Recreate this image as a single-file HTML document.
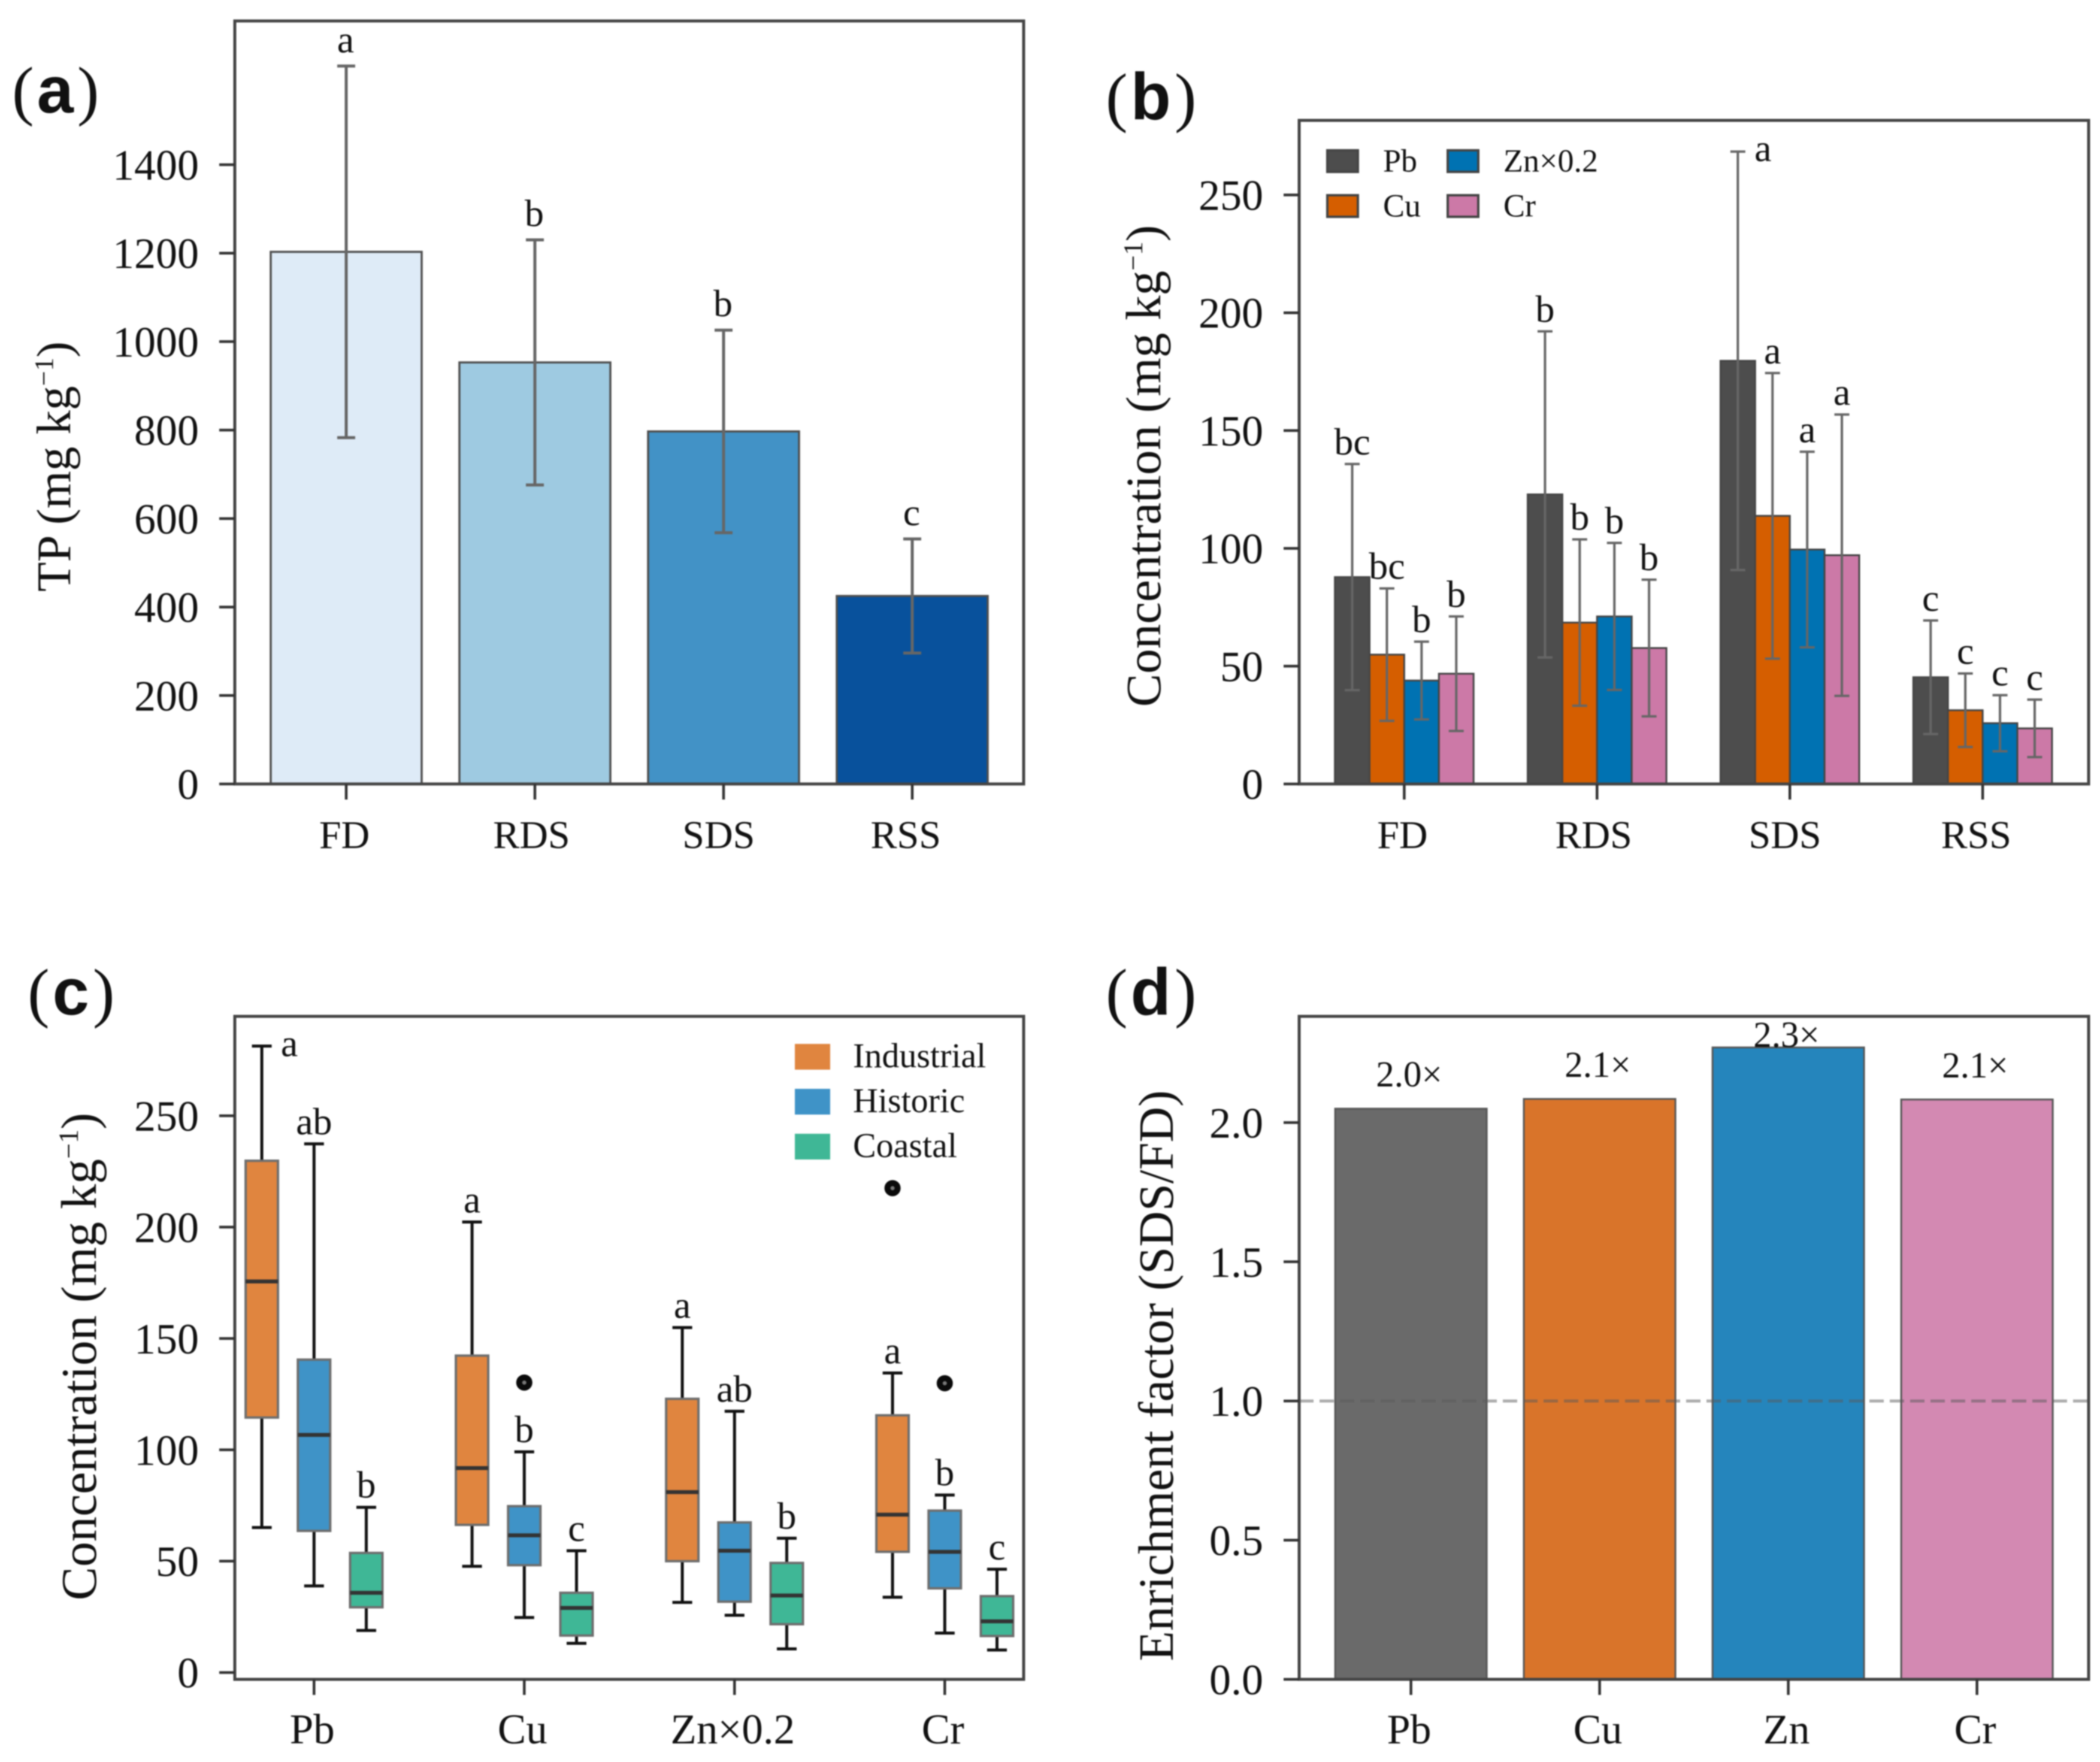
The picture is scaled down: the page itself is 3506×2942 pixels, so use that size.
<!DOCTYPE html>
<html lang="en">
<head>
<meta charset="utf-8">
<title>Metal concentrations by site</title>
<style>
  html, body { margin: 0; padding: 0; background: #fff; }
  svg { display: block; filter: blur(1px); }
  text { font-family: "Liberation Serif", serif; fill: #111; }
</style>
</head>
<body>
<svg id="figure" xmlns="http://www.w3.org/2000/svg" width="3506" height="2942" viewBox="0 0 3506 2942">
  <rect x="0" y="0" width="3506" height="2942" fill="#ffffff"/>
  <g id="panel-a"></g>
  <g id="panel-b"></g>
  <g id="panel-c"></g>
  <g id="panel-d"></g>
</svg>
<script>
// ---------- Panel (a) data ----------
const tpCategories = ['FD', 'RDS', 'SDS', 'RSS'];
const tpMeans = [1203, 953, 797, 425];
const tpSd = [420, 277, 229, 129];
const tpLetters = ['a', 'b', 'b', 'c'];
const tpTicks = [0, 200, 400, 600, 800, 1000, 1200, 1400];

// ---------- Panel (b) data ----------
const metalCategories = ['FD', 'RDS', 'SDS', 'RSS'];
const metalSeries = ['Pb', 'Cu', 'Zn×0.2', 'Cr'];
const pbMeans = [87.8, 122.9, 179.6, 45.3];
const cuMeans = [54.9, 68.5, 113.8, 31.3];
const znMeans = [43.9, 71.1, 99.5, 25.8];
const crMeans = [46.8, 57.7, 97.1, 23.6];
const pbSd = [48, 69.2, 88.8, 24.1];
const cuSd = [28.1, 35.3, 60.6, 15.6];
const znSd = [16.5, 31.2, 41.5, 11.9];
const crSd = [24.3, 29, 59.7, 12.2];
const pbLetters = ['bc', 'b', 'a', 'c'];
const cuLetters = ['bc', 'b', 'a', 'c'];
const znLetters = ['b', 'b', 'a', 'c'];
const crLetters = ['b', 'b', 'a', 'c'];
const metalTicks = [0, 50, 100, 150, 200, 250];

// ---------- Panel (c) data: [low whisker, q1, median, q3, high whisker] ----------
const boxCategories = ['Pb', 'Cu', 'Zn×0.2', 'Cr'];
const boxGroups = ['Industrial', 'Historic', 'Coastal'];
const industrialBoxes = [[65.1, 114.5, 175.6, 229.8, 281.3], [47.7, 66.3, 91.8, 142.3, 202.3], [31.5, 50, 81, 122.9, 154.9], [33.8, 54.2, 70.9, 115.5, 134.5]];
const historicBoxes = [[38.9, 63.6, 106.7, 140.5, 237.4], [24.7, 48.2, 61.6, 74.7, 99.1], [25.7, 31.8, 54.7, 67.4, 117.3], [17.7, 37.8, 54.2, 72.7, 79.7]];
const coastalBoxes = [[18.9, 29.3, 35.8, 53.7, 74.2], [13.1, 16.6, 29, 35.8, 54.7], [10.6, 21.7, 34.6, 49.2, 60.3], [10.1, 16.4, 23, 34.3, 46.4]];
const industrialOutliers = [null, null, null, 217.5];
const historicOutliers = [null, 130.2, null, 129.9];
const coastalOutliers = [null, null, null, null];
const industrialLetters = ['a', 'a', 'a', 'a'];
const historicLetters = ['ab', 'b', 'ab', 'b'];
const coastalLetters = ['b', 'c', 'b', 'c'];
const boxTicks = [0, 50, 100, 150, 200, 250];

// ---------- Panel (d) data ----------
const efCategories = ['Pb', 'Cu', 'Zn', 'Cr'];
const efValues = [2.05, 2.085, 2.27, 2.083];
const efLabels = ['2.0×', '2.1×', '2.3×', '2.1×'];
const efTicks = ['0.0', '0.5', '1.0', '1.5', '2.0'];
const efReference = 1.0;

// ---------- Helpers ----------
const NS = 'http://www.w3.org/2000/svg';
const INK = '#454545';
const LETTER_SIZE = 64;

function linear(d0, d1, r0, r1) {
  return function (v) { return r0 + (v - d0) * (r1 - r0) / (d1 - d0); };
}
function band(first, step) {
  return function (i) { return first + i * step; };
}
function make(parent, tag, attrs, name) {
  const el = document.createElementNS(NS, tag);
  for (const k in attrs) el.setAttribute(k, attrs[k]);
  
  
  parent.appendChild(el);
  return el;
}
function line(parent, x1, y1, x2, y2, stroke, width, name) {
  return make(parent, 'line', { x1: x1, y1: y1, x2: x2, y2: y2, stroke: stroke, 'stroke-width': width }, name);
}
function label(parent, x, y, str, size, anchor, name) {
  const el = make(parent, 'text', { x: x, y: y, 'font-size': size, 'text-anchor': anchor }, name);
  el.textContent = str;
  return el;
}
function barRect(parent, cx, width, yTop, yBase, fill, edge, edgeWidth, name) {
  return make(parent, 'rect', { x: cx - width / 2, y: yTop, width: width, height: yBase - yTop, fill: fill, stroke: edge, 'stroke-width': edgeWidth }, name);
}
function errorBar(parent, x, yHi, yLo, capWidth, strokeWidth, name) {
  const g = make(parent, 'g', {}, name);
  line(g, x, yHi, x, yLo, '#666666', strokeWidth, name + '-stem');
  line(g, x - capWidth / 2, yHi, x + capWidth / 2, yHi, '#666666', strokeWidth, name + '-cap-high');
  line(g, x - capWidth / 2, yLo, x + capWidth / 2, yLo, '#666666', strokeWidth, name + '-cap-low');
}
function frame(parent, left, top, right, bottom) {
  make(parent, 'rect', { x: left, y: top, width: right - left, height: bottom - top, fill: 'none', stroke: INK, 'stroke-width': 5 }, 'axes-frame');
}
function yAxis(parent, left, ticks, texts, scale) {
  ticks.forEach(function (t, i) {
    const y = scale(t);
    line(parent, left - 26, y, left, y, '#333333', 4.5, 'y-tick-' + texts[i]);
    label(parent, left - 60, y + 25, texts[i], 72, 'end', 'y-tick-label-' + texts[i]);
  });
}
function xAxis(parent, bottom, baseline, cats, center, size, drift) {
  cats.forEach(function (c, i) {
    const x = center(i);
    line(parent, x, bottom, x, bottom + 26, '#333333', 4.5, 'x-tick-' + c);
    label(parent, x - 3 - i * drift, baseline, c, size, 'middle', 'x-tick-label-' + c);
  });
}
function yTitle(parent, x, y, str, size, withUnit) {
  const el = make(parent, 'text', { 'font-size': size, 'text-anchor': 'middle', transform: 'translate(' + x + ',' + y + ') rotate(-90)' }, 'y-axis-title');
  el.appendChild(document.createTextNode(str));
  if (withUnit) {
    const sup = document.createElementNS(NS, 'tspan');
    sup.setAttribute('font-size', size * 0.55);
    sup.setAttribute('dy', -size * 0.36);
    sup.textContent = '−1';
    el.appendChild(sup);
    const end = document.createElementNS(NS, 'tspan');
    end.setAttribute('dy', size * 0.36);
    end.textContent = ')';
    el.appendChild(end);
  }
}
function panelTag(parent, x, baseline, letter) {
  const el = make(parent, 'text', { x: x, y: baseline, 'font-size': 110 }, 'panel-label-' + letter);
  const a = document.createElementNS(NS, 'tspan');
  a.textContent = '(';
  el.appendChild(a);
  const b = document.createElementNS(NS, 'tspan');
  b.setAttribute('style', 'font-family:"Liberation Sans",sans-serif;font-weight:700');
  b.setAttribute('dx', 5);
  b.textContent = letter;
  el.appendChild(b);
  const c = document.createElementNS(NS, 'tspan');
  c.setAttribute('dx', 6);
  c.textContent = ')';
  el.appendChild(c);
}

// ---------- Panel (a) ----------
(function () {
  const p = document.getElementById('panel-a');
  const L = 392, R = 1709, T = 35, B = 1309;
  const y = linear(0, 1400, B, 275);
  const x = band(578, 315);
  const fills = ['#deebf7', '#9ecae1', '#4292c6', '#08519c'];
  tpMeans.forEach(function (v, i) {
    barRect(p, x(i), 252, y(v), B, fills[i], '#4f4f4f', 3.5, 'bar-' + tpCategories[i]);
  });
  tpMeans.forEach(function (v, i) {
    errorBar(p, x(i), y(v + tpSd[i]), y(v - tpSd[i]), 30, 5, 'error-bar-' + tpCategories[i]);
    label(p, x(i) - 1, y(v + tpSd[i]) - 23, tpLetters[i], LETTER_SIZE, 'middle', 'significance-letter-' + tpCategories[i]);
  });
  frame(p, L, T, R, B);
  yAxis(p, L, tpTicks, tpTicks.map(String), y);
  xAxis(p, B, 1416, tpCategories, x, 66, 2.6);
  yTitle(p, 117, 779, 'TP (mg kg', 81, true);
  panelTag(p, 20, 188, 'a');
})();

// ---------- Panel (b) ----------
(function () {
  const p = document.getElementById('panel-b');
  const L = 2169, R = 3487, T = 201, B = 1309;
  const y = linear(0, 250, B, 325.5);
  const x = band(2344.4, 321.9);
  const W = 57.9;
  const colors = ['#4d4d4d', '#d55e00', '#0072b2', '#cc79a7'];
  const means = [pbMeans, cuMeans, znMeans, crMeans];
  const sds = [pbSd, cuSd, znSd, crSd];
  const letters = [pbLetters, cuLetters, znLetters, crLetters];
  means.forEach(function (series, s) {
    series.forEach(function (v, i) {
      const cx = x(i) + (s - 1.5) * W;
      barRect(p, cx, W, y(v), B, colors[s], '#454545', 3, 'bar-' + metalSeries[s] + '-' + metalCategories[i]);
    });
  });
  means.forEach(function (series, s) {
    series.forEach(function (v, i) {
      const cx = x(i) + (s - 1.5) * W;
      const hi = v + sds[s][i];
      errorBar(p, cx, y(hi), y(v - sds[s][i]), 25, 4, 'error-bar-' + metalSeries[s] + '-' + metalCategories[i]);
      const side = y(hi) - 60 < T;
      label(p, side ? cx + 42 : cx, side ? y(hi) + 16 : y(hi) - 16, letters[s][i], LETTER_SIZE, 'middle', 'significance-letter-' + metalSeries[s] + '-' + metalCategories[i]);
    });
  });
  frame(p, L, T, R, B);
  yAxis(p, L, metalTicks, metalTicks.map(String), y);
  xAxis(p, B, 1416, metalCategories, x, 66, 2.6);
  yTitle(p, 1937, 778, 'Concentration (mg kg', 83, true);
  panelTag(p, 1846, 199, 'b');
  // legend: two columns, two rows
  const legend = make(p, 'g', {}, 'legend');
  metalSeries.forEach(function (name, s) {
    const col = s < 2 ? 0 : 1;
    const row = s % 2;
    const px = 2216 + col * 201;
    const py = 251 + row * 75;
    make(legend, 'rect', { x: px, y: py, width: 51, height: 36, fill: colors[s], stroke: '#454545', 'stroke-width': 4 }, 'legend-swatch-' + name);
    label(legend, 2309 + col * 201, 286.5 + row * 75, name, 54, 'start', 'legend-label-' + name);
  });
})();

// ---------- Panel (c) ----------
(function () {
  const p = document.getElementById('panel-c');
  const L = 392, R = 1709, T = 1697, B = 2804;
  const y = linear(0, 250, 2792.6, 1863);
  const x = band(524.3, 351);
  const OFF = 87.2, W = 54;
  const colors = ['#e0853f', '#3f93c7', '#3fb796'];
  const boxes = [industrialBoxes, historicBoxes, coastalBoxes];
  const outliers = [industrialOutliers, historicOutliers, coastalOutliers];
  const letters = [industrialLetters, historicLetters, coastalLetters];
  boxes.forEach(function (group, g) {
    group.forEach(function (b, i) {
      const cx = x(i) + (g - 1) * OFF;
      const id = boxGroups[g] + '-' + boxCategories[i];
      const box = make(p, 'g', {}, 'box-' + id);
      line(box, cx, y(b[4]), cx, y(b[3]), '#111111', 5, 'whisker-high-' + id);
      line(box, cx, y(b[1]), cx, y(b[0]), '#111111', 5, 'whisker-low-' + id);
      line(box, cx - 16.5, y(b[4]), cx + 16.5, y(b[4]), '#111111', 5, 'cap-high-' + id);
      line(box, cx - 16.5, y(b[0]), cx + 16.5, y(b[0]), '#111111', 5, 'cap-low-' + id);
      make(box, 'rect', { x: cx - W / 2, y: y(b[3]), width: W, height: y(b[1]) - y(b[3]), fill: colors[g], stroke: '#6e6e6e', 'stroke-width': 4 }, 'iqr-box-' + id);
      line(box, cx - W / 2, y(b[2]), cx + W / 2, y(b[2]), '#333333', 6.5, 'median-' + id);
      if (outliers[g][i] !== null) {
        make(box, 'circle', { cx: cx, cy: y(outliers[g][i]), r: 8.5, fill: '#777777', stroke: '#0a0a0a', 'stroke-width': 10 }, 'outlier-' + id);
      }
      const side = y(b[4]) - 60 < T;
      label(p, side ? cx + 46 : cx, side ? y(b[4]) + 17 : y(b[4]) - 16, letters[g][i], LETTER_SIZE, 'middle', 'significance-letter-' + id);
    });
  });
  frame(p, L, T, R, B);
  yAxis(p, L, boxTicks, boxTicks.map(String), y);
  xAxis(p, B, 2911, boxCategories, x, 71, 0);
  yTitle(p, 160, 2265, 'Concentration (mg kg', 84, true);
  panelTag(p, 46, 1694, 'c');
  const legend = make(p, 'g', {}, 'legend');
  boxGroups.forEach(function (name, g) {
    make(legend, 'rect', { x: 1327, y: 1743 + g * 75, width: 59, height: 43, fill: colors[g], stroke: 'none' }, 'legend-swatch-' + name);
    label(legend, 1424, 1782 + g * 75, name, 58, 'start', 'legend-label-' + name);
  });
})();

// ---------- Panel (d) ----------
(function () {
  const p = document.getElementById('panel-d');
  const L = 2169, R = 3487, T = 1697, B = 2804;
  const y = linear(0, 2, B, 1874.4);
  const x = band(2355.6, 315);
  const colors = ['#6a6a6a', '#d9742a', '#2585bc', '#d389b2'];
  efValues.forEach(function (v, i) {
    barRect(p, x(i), 253, y(v), B, colors[i], '#565656', 3, 'bar-' + efCategories[i]);
  });
  line(p, L, y(efReference), R, y(efReference), 'rgba(90,90,90,0.5)', 5, 'reference-line').setAttribute('stroke-dasharray', '24 10');
  efValues.forEach(function (v, i) {
    label(p, x(i) - 3, Math.max(y(v) - 37, T + 51), efLabels[i], 61, 'middle', 'value-label-' + efCategories[i]);
  });
  frame(p, L, T, R, B);
  yAxis(p, L, efTicks.map(Number), efTicks, y);
  xAxis(p, B, 2911, efCategories, x, 70, 0);
  yTitle(p, 1958, 2297, 'Enrichment factor (SDS/FD)', 82.5, false);
  panelTag(p, 1846, 1694, 'd');
})();
</script>
</body>
</html>
